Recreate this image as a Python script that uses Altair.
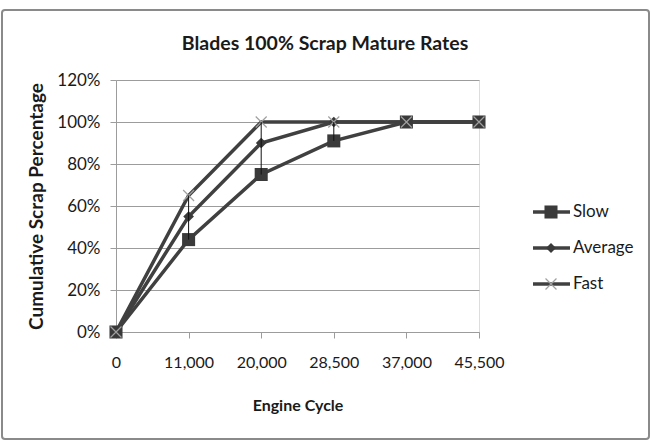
import altair as alt
import pandas as pd

# ---- data ----
title_text = "Blades 100% Scrap Mature Rates"
cycles = ["0", "11,000", "20,000", "28,500", "37,000", "45,500"]
series = ["Slow", "Average", "Fast"]
slow = [0.00, 0.44, 0.75, 0.91, 1.00, 1.00]
average = [0.00, 0.55, 0.90, 1.00, 1.00, 1.00]
fast = [0.00, 0.65, 1.00, 1.00, 1.00, 1.00]
y_ticks = [0.0, 0.2, 0.4, 0.6, 0.8, 1.0, 1.2]

values_by_series = {"Slow": slow, "Average": average, "Fast": fast}
rows = []
for s in series:
    for i, (c, v) in enumerate(zip(cycles, values_by_series[s])):
        rows.append({"series": s, "idx": i, "cycle": c, "value": v})
df = pd.DataFrame(rows)
legend_df = pd.DataFrame({"series": series})

FONT = "Lato"
LINE = "#404040"
GRID = "#9c9c9c"
TXT = "#1a1a1a"

W, H = 363, 252
js_labels = "[" + ",".join("'" + c + "'" for c in cycles) + "]"

x_enc = alt.X(
    "idx:Q",
    scale=alt.Scale(domain=[0, len(cycles) - 1], nice=False, zero=False),
    axis=alt.Axis(
        values=[i * 0.5 for i in range(2 * (len(cycles) - 1) + 1)],
        labelExpr="datum.value % 1 == 0 ? " + js_labels + "[datum.value] : ''",
        grid=False, tickSize=6, tickColor=GRID, domainColor=GRID,
        labelFont=FONT, labelFontSize=16, labelColor=TXT, labelPadding=16,
        labelFlush=False, labelOverlap=False,
        title="Engine Cycle", titleFont=FONT, titleFontSize=16,
        titleFontWeight="bold", titleColor=TXT, titlePadding=27,
    ),
)
y_enc = alt.Y(
    "value:Q",
    scale=alt.Scale(domain=[0, 1.2], nice=False),
    axis=alt.Axis(
        values=y_ticks, format=".0%", grid=True, gridColor=GRID, gridWidth=1,
        tickSize=6, tickColor=GRID, domainColor=GRID,
        labelFont=FONT, labelFontSize=17, labelColor=TXT, labelPadding=10,
        title="Cumulative Scrap Percentage", titleFont=FONT, titleFontSize=19,
        titleFontWeight="bold", titleColor=TXT, titlePadding=10,
    ),
)

base = alt.Chart(df)

lines = base.mark_line(strokeWidth=3.5, color=LINE).encode(
    x=x_enc, y=y_enc, detail="series:N",
    order="idx:Q",
)

sq = base.transform_filter(alt.datum.series == "Slow").mark_point(
    shape="square", filled=True, size=170, color="#3a3a3a", opacity=1
).encode(x="idx:Q", y="value:Q")

dia = base.transform_filter(alt.datum.series == "Average").mark_point(
    shape="diamond", filled=True, size=115, color="#3a3a3a", opacity=1
).encode(x="idx:Q", y="value:Q")

XPATH = "M-1,-1L1,1M-1,1L1,-1"
crs = base.transform_filter(alt.datum.series == "Fast").mark_point(
    shape=XPATH, filled=False, size=120, color="#a0a0a0", strokeWidth=1.2, opacity=1
).encode(x="idx:Q", y="value:Q")

hilo = base.transform_aggregate(
    lo="min(value)", hi="max(value)", groupby=["idx"]
).mark_rule(color="#111111", strokeWidth=1).encode(
    x="idx:Q", y="lo:Q", y2="hi:Q"
)

# ---- legend (built from the series list) ----
leg_y = alt.Y("series:N", scale=alt.Scale(type="point", domain=series, range=[132, 204], padding=0), axis=None)
lbase = alt.Chart(legend_df)
leg_line = lbase.mark_rule(color=LINE, strokeWidth=3.5, clip=False).encode(
    x=alt.value(417), x2=alt.value(454), y=leg_y
)
leg_sq = lbase.transform_filter(alt.datum.series == "Slow").mark_point(
    shape="square", filled=True, size=170, color="#3a3a3a", opacity=1, clip=False
).encode(x=alt.value(435), y=leg_y)
leg_dia = lbase.transform_filter(alt.datum.series == "Average").mark_point(
    shape="diamond", filled=True, size=100, color="#3a3a3a", opacity=1, clip=False
).encode(x=alt.value(435), y=leg_y)
leg_x = lbase.transform_filter(alt.datum.series == "Fast").mark_point(
    shape=XPATH, filled=False, size=120, color="#a0a0a0", strokeWidth=1.2, opacity=1, clip=False
).encode(x=alt.value(435), y=leg_y)
leg_txt = lbase.mark_text(
    align="left", baseline="middle", font=FONT, fontSize=17, color=TXT, clip=False
).encode(x=alt.value(457), y=leg_y, text="series:N")

deco = pd.DataFrame({"title": [title_text]})
border = alt.Chart(deco).mark_rect(
    fillOpacity=0, stroke="#8a8a8a", strokeWidth=2, cornerRadius=3, clip=False
).encode(x=alt.value(-114), x2=alt.value(533), y=alt.value(-70), y2=alt.value(359))
title = alt.Chart(deco).mark_text(
    font=FONT, fontSize=19.5, fontWeight="bold", color=TXT, align="center",
    baseline="middle", clip=False
).encode(x=alt.value(209), y=alt.value(-36), text="title:N")

main = alt.layer(lines, sq, dia, crs, hilo)
legend = alt.layer(leg_line, leg_sq, leg_dia, leg_x, leg_txt)

chart = alt.layer(main, legend, border, title).resolve_scale(y="independent").properties(
    width=W, height=H,
    autosize=alt.AutoSizeParams(type="none"),
    padding={"left": 116, "top": 80, "right": 172, "bottom": 115},
).configure_view(stroke=None).configure(background="white")

chart.save("out.html", embed_options={"renderer": "svg", "actions": False})
